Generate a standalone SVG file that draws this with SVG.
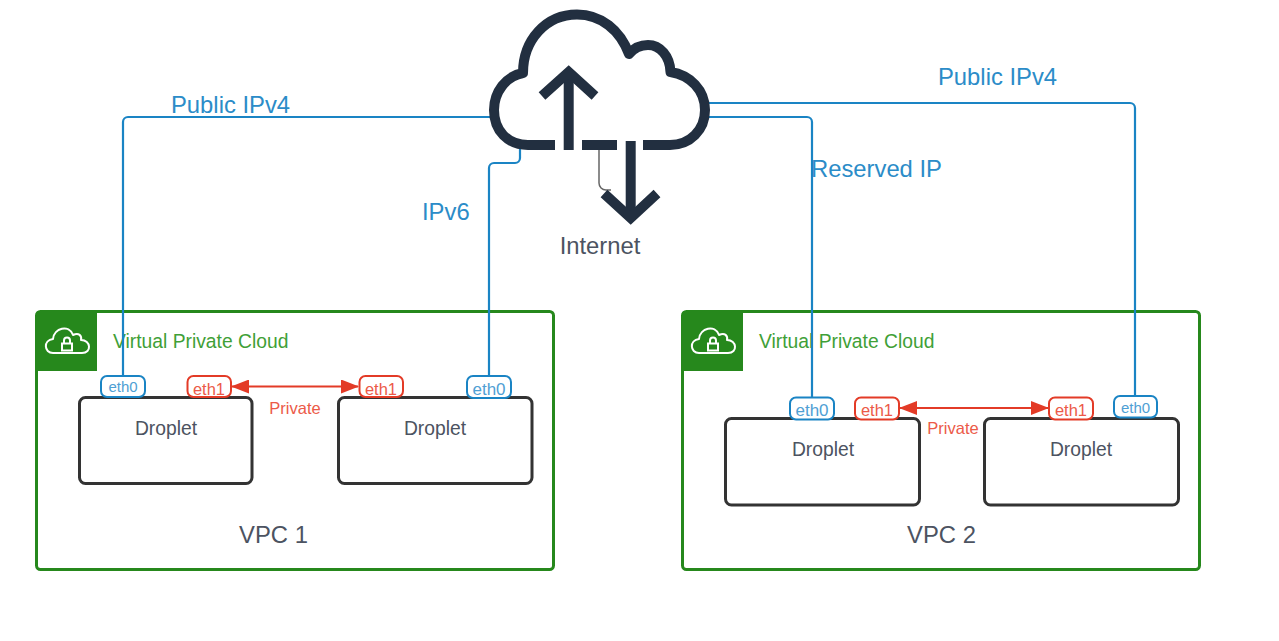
<svg xmlns="http://www.w3.org/2000/svg" width="1279" height="641" viewBox="0 0 1279 641">
<style>
text{font-family:"Liberation Sans",Arial,sans-serif}
.blue{fill:none;stroke:#1a84c4;stroke-width:2.200}
.red{fill:none;stroke:#e33b27;stroke-width:2}
.vpc{fill:#fff;stroke:#26881c;stroke-width:3}
.tab{fill:#26881c}
.vt{fill:#3fa037;font-size:19.300px}
.drop{fill:#fff;stroke:#333;stroke-width:3}
.dt{fill:#4c5361;font-size:19.300px;text-anchor:middle}
.lab{fill:#2b8cc8;font-size:23.800px}
.bp{fill:#fff;stroke:#1a84c4;stroke-width:2}
.rp{fill:#fff;stroke:#e33b27;stroke-width:2}
.bt{fill:#4fa0d4;text-anchor:middle;font-size:15px}
.rt{fill:#ec5a48;text-anchor:middle;font-size:16.500px}
.pt{fill:#ec5a48;font-size:16.500px;text-anchor:middle}
.vl{fill:#4c5361;font-size:23.800px;text-anchor:middle}
.ci{fill:none;stroke:#fff;stroke-width:2;stroke-linejoin:round}
.big{fill:none;stroke:#222f40;stroke-width:10}
</style>
<defs>
<marker id="arrowRed" viewBox="0 0 18 14" refX="17" refY="7" markerWidth="18" markerHeight="14" markerUnits="userSpaceOnUse" orient="auto-start-reverse"><path d="M0 0L18 7L0 14Z" fill="#e33b27"/></marker>
<g id="cloudIcon"><path class="ci" d="M9 28C0 28 -1 15 9 14C10 3 25 -1 29 10C35 7 38 11 37 15C47 15 48 28 38 28Z"/><path d="M18 18.500h10v7h-10zM20 18.500v-3a3 3 0 0 1 6 0v3" fill="none" stroke="#fff" stroke-width="2"/></g>
</defs>
<g id="vpc1"><rect class="vpc" x="36.500" y="311.500" width="517" height="258" rx="4"/><path class="tab" d="M36 315a4 4 0 0 1 4-4H97V371H36Z"/><use href="#cloudIcon" x="44" y="325"/><text class="vt" x="113" y="348">Virtual Private Cloud</text><text class="vl" x="273.500" y="543">VPC 1</text></g>
<g id="vpc2"><rect class="vpc" x="682.500" y="311.500" width="517" height="258" rx="4"/><path class="tab" d="M682 315a4 4 0 0 1 4-4H743V371H682Z"/><use href="#cloudIcon" x="690" y="325"/><text class="vt" x="759" y="348">Virtual Private Cloud</text><text class="vl" x="941.500" y="543">VPC 2</text></g>
<g id="connectors">
<path class="blue" d="M490 117H128a5 5 0 0 0-5 5V376"/>
<path class="blue" d="M520 148V158a5 5 0 0 1-5 5H494a5 5 0 0 0-5 5V376"/>
<path class="blue" d="M709 103H1130a5 5 0 0 1 5 5V396"/>
<path class="blue" d="M709 117H807a5 5 0 0 1 5 5V397"/>
<path d="M599 150V183a7 7 0 0 0 7 7h5" fill="none" stroke="#666" stroke-width="1.500"/>
<path class="red" d="M232 386.500H358" marker-start="url(#arrowRed)" marker-end="url(#arrowRed)"/>
<path class="red" d="M900 408H1048" marker-start="url(#arrowRed)" marker-end="url(#arrowRed)"/>
</g>
<g id="internet">
<path class="big" stroke-linejoin="round" d="M555 145H528C508 145 494 131 494 110C494 92 506 76 523 73C523 40 546 14.500 577 14.500C601 14.500 620 30 629 54C634 48 641 45 648 45C660 45 670 56 670.500 72C690 75 705 90 705 110C705 130 690 145 670 145H643"/>
<path class="big" d="M582 145H617"/>
<path class="big" d="M568.700 150V73"/>
<path class="big" stroke-linejoin="miter" d="M542 96L568.700 72L595 96"/>
<path class="big" d="M630.700 141V218"/>
<path class="big" stroke-linejoin="miter" d="M604 193.500L630.700 218L657 193.500"/>
<text x="600" y="254" fill="#4c5361" font-size="23.800" text-anchor="middle">Internet</text>
</g>
<g id="droplet1"><rect class="drop" x="79.500" y="397.500" width="172.500" height="86" rx="6"/><text class="dt" x="166" y="435">Droplet</text></g>
<g id="droplet2"><rect class="drop" x="338.500" y="397.500" width="193.500" height="86" rx="6"/><text class="dt" x="435" y="435">Droplet</text></g>
<g id="droplet3"><rect class="drop" x="725.500" y="418.500" width="194" height="86.500" rx="6"/><text class="dt" x="823" y="456">Droplet</text></g>
<g id="droplet4"><rect class="drop" x="984.500" y="418.500" width="194" height="86.500" rx="6"/><text class="dt" x="1081" y="456">Droplet</text></g>
<g id="eth-1a"><rect class="bp" x="101" y="376" width="44" height="21" rx="6"/><text class="bt" x="123" y="392">eth0</text></g>
<g id="eth-1b"><rect class="rp" x="187.500" y="376" width="43.500" height="21" rx="6"/><text class="rt" x="209" y="395">eth1</text></g>
<g id="eth-1c"><rect class="rp" x="359.500" y="376" width="43.500" height="21" rx="6"/><text class="rt" x="381" y="395">eth1</text></g>
<g id="eth-1d"><rect class="bp" x="467" y="376" width="44" height="22" rx="6"/><text class="bt" x="489" y="394.500" style="font-size:17px">eth0</text></g>
<g id="eth-2a"><rect class="bp" x="790" y="397.500" width="44" height="22" rx="6"/><text class="bt" x="812" y="415.500" style="font-size:17px">eth0</text></g>
<g id="eth-2b"><rect class="rp" x="855" y="397.500" width="44" height="22" rx="6"/><text class="rt" x="877" y="416">eth1</text></g>
<g id="eth-2c"><rect class="rp" x="1049" y="397.500" width="44" height="22" rx="6"/><text class="rt" x="1071" y="416">eth1</text></g>
<g id="eth-2d"><rect class="bp" x="1114" y="396" width="43" height="21.500" rx="6"/><text class="bt" x="1135.500" y="413">eth0</text></g>
<text class="lab" x="171" y="113">Public IPv4</text>
<text class="lab" x="938" y="85">Public IPv4</text>
<text class="lab" x="811" y="177">Reserved IP</text>
<text class="lab" x="422" y="220">IPv6</text>
<text class="pt" x="295" y="414">Private</text>
<text class="pt" x="953" y="434">Private</text>
</svg>
